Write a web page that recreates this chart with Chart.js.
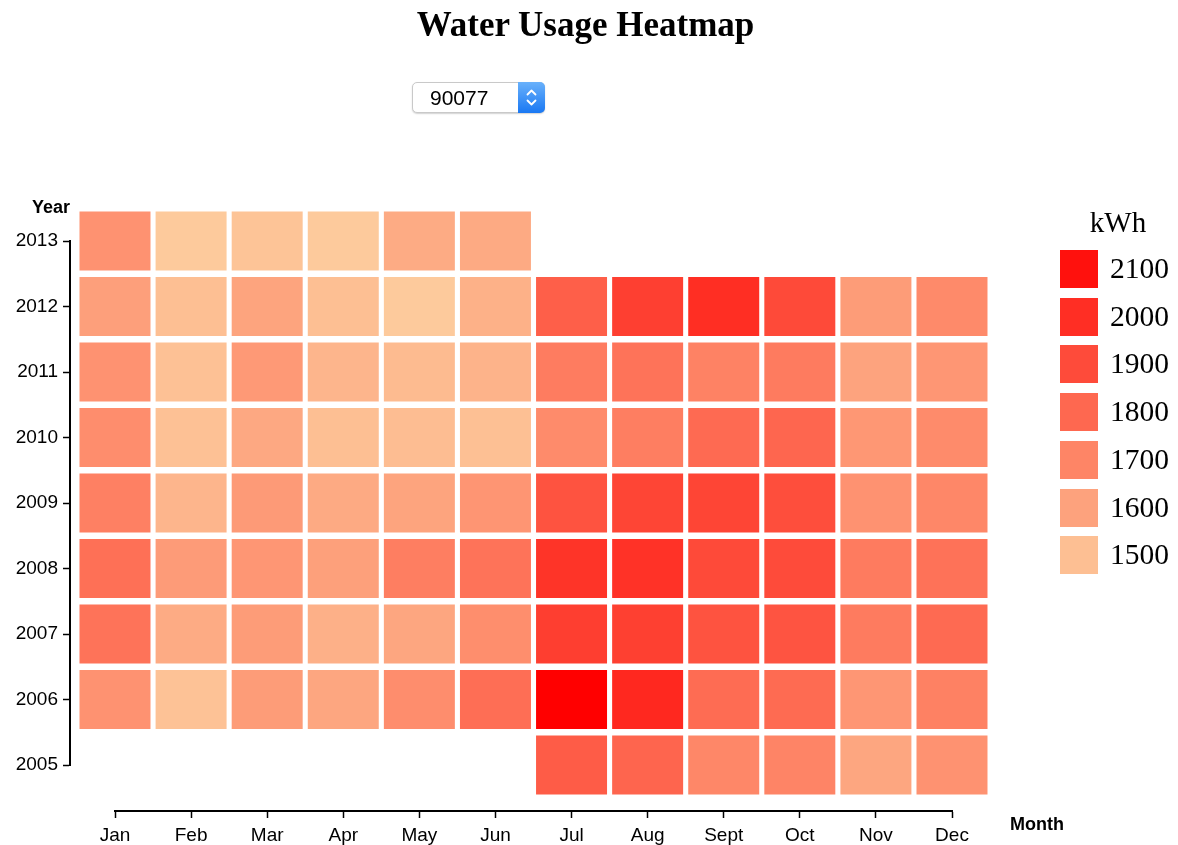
<!DOCTYPE html>
<html>
<head>
<meta charset="utf-8">
<script src="https://cdn.jsdelivr.net/npm/chart.js@4.4.1/dist/chart.umd.min.js"></script>
<style>
  html, body { margin: 0; padding: 0; background: #fff; }
  #wrap { position: relative; width: 1178px; height: 845px; overflow: hidden; }
  #chart { position: absolute; left: 0; top: 0; }
  #title { position: absolute; left: 0; width: 1171px; top: 7px; margin: 0; text-align: center;
           font: bold 35px "Liberation Serif", "Times New Roman", serif; line-height: 35px; color: #000; }
  #picker { position: absolute; left: 412px; top: 82px; width: 133px; height: 31px; box-sizing: border-box;
            border: 1px solid #c9c9c9; border-radius: 5px; background: #fff;
            box-shadow: 0 1px 1.5px rgba(0,0,0,0.18); }
  #picker select { -webkit-appearance: none; appearance: none; border: none; background: transparent;
            position: absolute; left: 0; top: 0; width: 104px; height: 29px; padding: 0 0 0 17px; margin: 0;
            font: 21px "Liberation Sans", Arial, sans-serif; color: #000; outline: none; }
  #pickerArrow { position: absolute; right: -1px; top: -1px; width: 27px; height: 31px; border-radius: 0 5px 5px 0;
            background: linear-gradient(#69b1fb, #1a78f3); }
  .axisName { position: absolute; font: bold 18px "Liberation Sans", Arial, sans-serif; color: #000; line-height: 20px; }
  #legend { position: absolute; left: 1060px; top: 250px; }
  #legendTitle { position: absolute; left: 1068px; width: 100px; top: 206px; text-align: center;
            font: 29px "Liberation Serif", "Times New Roman", serif; line-height: 32px; color: #000; }
  .lgRow { position: absolute; left: 0; height: 38px; width: 120px; }
  .lgSw { position: absolute; left: 0; top: 0; width: 38px; height: 38px; }
  .lgTx { position: absolute; left: 50px; top: 2px; line-height: 38px; font: 29.5px "Liberation Serif", "Times New Roman", serif; color: #000; }
</style>
</head>
<body>
<div id="wrap">
  <canvas id="chart" width="1178" height="845"></canvas>
  <h1 id="title">Water Usage Heatmap</h1>
  <div id="picker">
    <select><option>90077</option></select>
    <div id="pickerArrow">
      <svg width="27" height="31" viewBox="0 0 27 31">
        <polyline points="9.5,12.5 13.5,8.5 17.5,12.5" fill="none" stroke="#fff" stroke-width="1.8" stroke-linecap="round" stroke-linejoin="round"/>
        <polyline points="9.5,18.5 13.5,22.5 17.5,18.5" fill="none" stroke="#fff" stroke-width="1.8" stroke-linecap="round" stroke-linejoin="round"/>
      </svg>
    </div>
  </div>
  <div class="axisName" style="left:0;width:70px;text-align:right;top:197px;">Year</div>
  <div class="axisName" style="left:1010px;top:814px;">Month</div>
  <div id="legendTitle"></div>
  <div id="legend"></div>
</div>
<script>
// ---- data ----
const months = ['Jan','Feb','Mar','Apr','May','Jun','Jul','Aug','Sept','Oct','Nov','Dec'];
const years = [2005, 2006, 2007, 2008, 2009, 2010, 2011, 2012, 2013];
const usage2005 = [null, null, null, null, null, null, 1841, 1810, 1692, 1703, 1585, 1654];
const usage2006 = [1654, 1488, 1620, 1585, 1671, 1779, 2160, 2021, 1786, 1790, 1640, 1713];
const usage2007 = [1761, 1568, 1620, 1550, 1585, 1668, 1945, 1940, 1872, 1870, 1734, 1793];
const usage2008 = [1772, 1623, 1640, 1606, 1723, 1761, 1980, 1986, 1903, 1900, 1734, 1765];
const usage2009 = [1716, 1533, 1626, 1571, 1592, 1644, 1873, 1921, 1921, 1890, 1654, 1692];
const usage2010 = [1671, 1491, 1578, 1498, 1505, 1495, 1679, 1724, 1793, 1807, 1637, 1679];
const usage2011 = [1654, 1491, 1630, 1533, 1512, 1540, 1730, 1762, 1710, 1734, 1595, 1640];
const usage2012 = [1609, 1498, 1592, 1498, 1460, 1547, 1831, 1942, 2001, 1904, 1620, 1682];
const usage2013 = [1654, 1460, 1481, 1460, 1568, 1570, null, null, null, null, null, null];
const legendValues = [2100, 2000, 1900, 1800, 1700, 1600, 1500];
const legendTitle = 'kWh';
const colorDomain = [1450, 2160];

// ---- colour scale ----
const lowRGB = [253, 205, 158], highRGB = [255, 0, 0];
function colorFor(v) {
  const t = Math.max(0, Math.min(1, (v - colorDomain[0]) / (colorDomain[1] - colorDomain[0])));
  const c = lowRGB.map((l, i) => Math.round(l + (highRGB[i] - l) * t));
  return `rgb(${c[0]},${c[1]},${c[2]})`;
}

// ---- cells ----
const rowsByYear = {2005: usage2005, 2006: usage2006, 2007: usage2007, 2008: usage2008, 2009: usage2009,
                    2010: usage2010, 2011: usage2011, 2012: usage2012, 2013: usage2013};
const half = 0.45;
const cells = [];
years.forEach(yr => rowsByYear[yr].forEach((v, i) => {
  if (v !== null) cells.push({ x: months[i], y: [yr - half, yr + half], v: v });
}));

// ---- legend (HTML) ----
document.getElementById('legendTitle').textContent = legendTitle;
const lg = document.getElementById('legend');
legendValues.forEach((v, i) => {
  const row = document.createElement('div');
  row.className = 'lgRow';
  row.style.top = (i * 47.7) + 'px';
  const sw = document.createElement('div');
  sw.className = 'lgSw';
  sw.style.background = colorFor(v);
  const tx = document.createElement('div');
  tx.className = 'lgTx';
  tx.textContent = String(v);
  row.appendChild(sw); row.appendChild(tx);
  lg.appendChild(row);
});

// ---- chart ----
const tickFont = { family: '"Liberation Sans", Arial, sans-serif', size: 19 };
new Chart(document.getElementById('chart'), {
  type: 'bar',
  data: {
    labels: months,
    datasets: [{
      data: cells,
      backgroundColor: ctx => (ctx.raw ? colorFor(ctx.raw.v) : '#fff'),
      borderWidth: 0,
      categoryPercentage: 1,
      barPercentage: 0.933,
      clip: false,
      xAxisID: 'x',
      yAxisID: 'y'
    }]
  },
  options: {
    responsive: false,
    animation: false,
    events: [],
    layout: { padding: { left: 2, right: 226, top: 241, bottom: 80 } },
    plugins: { legend: { display: false }, tooltip: { enabled: false }, title: { display: false } },
    scales: {
      x: {
        type: 'category',
        offset: false,
        position: { y: 2004.3 },
        grid: { offset: false, drawOnChartArea: false, tickLength: 6, tickColor: '#000', tickWidth: 1.5 },
        border: { color: '#000', width: 2 },
        ticks: { color: '#000', font: tickFont, padding: 8, maxRotation: 0, autoSkip: false }
      },
      y: {
        type: 'linear',
        min: 2005, max: 2013,
        position: { x: -0.59 },
        grid: { drawOnChartArea: false, tickLength: 6, tickColor: '#000', tickWidth: 1.5 },
        border: { color: '#000', width: 2 },
        ticks: { display: false, stepSize: 1 }
      },
      yLabels: {
        type: 'linear',
        axis: 'y',
        position: 'left',
        min: 2005, max: 2013,
        grid: { display: false, drawTicks: false },
        border: { display: false },
        ticks: { stepSize: 1, padding: 57, color: '#000', font: tickFont, callback: v => String(v) },
        afterFit: s => { s.width = 113; }
      }
    }
  }
});
</script>
</body>
</html>
